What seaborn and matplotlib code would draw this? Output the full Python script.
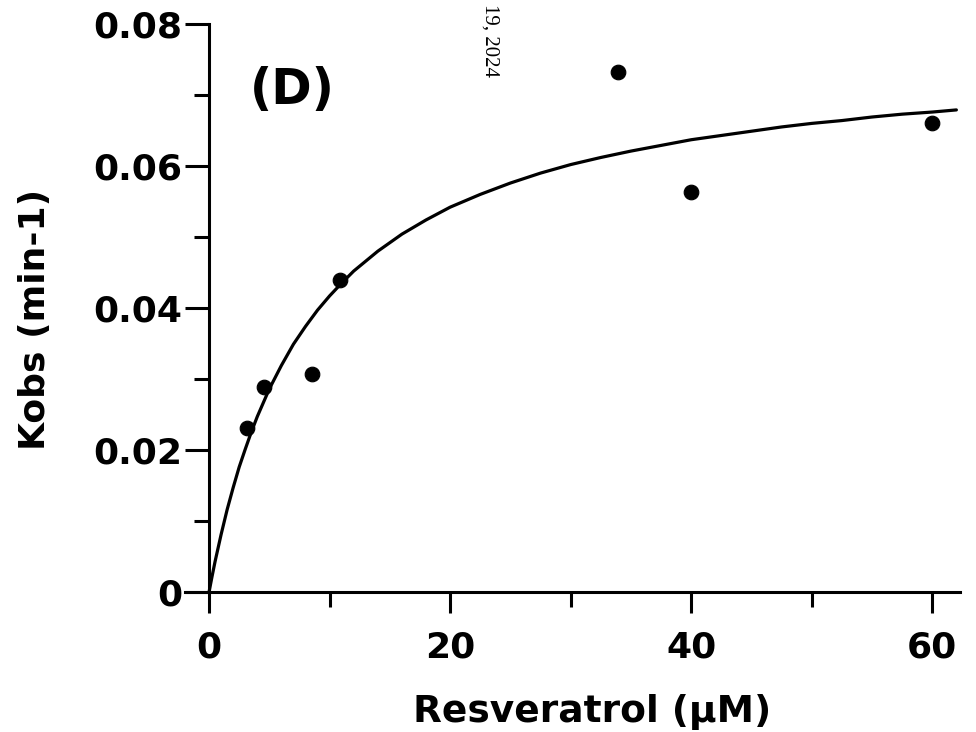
import matplotlib
matplotlib.use('Agg')
import matplotlib.pyplot as plt
import seaborn as sns
from matplotlib.ticker import MultipleLocator

# measured points
resveratrol = [3.15, 4.56, 8.55, 10.87, 33.9, 40.0, 60.0]
kobs = [0.0231, 0.0289, 0.0307, 0.0439, 0.0732, 0.0563, 0.0661]

# fitted curve
fit_x = [0, 0.25, 0.5, 1, 1.5, 2, 2.5, 3, 3.5, 4, 5, 6, 7, 8, 9, 10, 11, 12, 14, 16,
         18, 20, 22.5, 25, 27.5, 30, 32.5, 35, 37.5, 40, 42.5, 45, 47.5, 50, 52.5,
         55, 57.5, 60, 62]
fit_y = [0, 0.0022, 0.0043, 0.0081, 0.0116, 0.0147, 0.0176, 0.0201, 0.0225, 0.0247,
         0.0286, 0.0319, 0.0349, 0.0374, 0.0397, 0.0417, 0.0435, 0.0452, 0.0480,
         0.0504, 0.0524, 0.0542, 0.0560, 0.0576, 0.0590, 0.0602, 0.0612, 0.0621,
         0.0629, 0.0637, 0.0643, 0.0649, 0.0655, 0.0660, 0.0664, 0.0669, 0.0673,
         0.0676, 0.0679]

x_ticks = [0, 20, 40, 60]
y_ticks = [0, 0.02, 0.04, 0.06, 0.08]
y_tick_labels = ['0', '0.02', '0.04', '0.06', '0.08']

sns.set_style('ticks')
plt.rcParams['font.family'] = ['DejaVu Sans']
for key in ('text.color', 'axes.edgecolor', 'axes.labelcolor', 'xtick.color', 'ytick.color'):
    plt.rcParams[key] = 'black'

fig = plt.figure(figsize=(9.76, 7.32), dpi=100)
ax = fig.add_axes([0.1895, 0.1913, 0.7941, 0.7759])

sns.lineplot(x=fit_x, y=fit_y, ax=ax, color='black', linewidth=2.3)
sns.scatterplot(x=resveratrol, y=kobs, ax=ax, color='black', s=110, edgecolor='black', zorder=3)

ax.set_xlim(-2, 62.3)
ax.set_ylim(0, 0.08)
ax.spines['left'].set_position(('data', 0))
ax.spines['right'].set_visible(False)
ax.spines['top'].set_visible(False)
for sp in ('left', 'bottom'):
    ax.spines[sp].set_linewidth(2.2)

ax.set_xticks(x_ticks)
ax.set_xticklabels([str(t) for t in x_ticks])
ax.set_yticks(y_ticks)
ax.set_yticklabels(y_tick_labels)
ax.xaxis.set_minor_locator(MultipleLocator(10))
ax.yaxis.set_minor_locator(MultipleLocator(0.01))
ax.tick_params(axis='x', which='major', length=15, width=2.2, pad=13, labelsize=26)
ax.tick_params(axis='x', which='minor', length=11, width=2.2)
ax.tick_params(axis='y', which='major', length=17, width=2.2, pad=2, labelsize=26)
ax.tick_params(axis='y', which='minor', length=11, width=2.2)
for lbl in ax.get_xticklabels() + ax.get_yticklabels():
    lbl.set_fontweight('bold')

ax.set_xlabel('Resveratrol (μM)', fontsize=27, fontweight='bold')
ax.set_ylabel('Kobs (min-1)', fontsize=26, fontweight='bold')
ax.xaxis.set_label_coords(0.525, -0.18)
ax.yaxis.set_label_coords(-0.172, 0.479)

ax.text(3.4, 0.0707, '(D)', fontsize=35, fontweight='bold', ha='left', va='center')

fig.text(490 / 976, 1 - 4 / 732, '19, 2024', family=['Liberation Serif'], fontsize=15,
         rotation=270, ha='center', va='top')

fig.savefig('out.png', dpi=100, facecolor='white')
